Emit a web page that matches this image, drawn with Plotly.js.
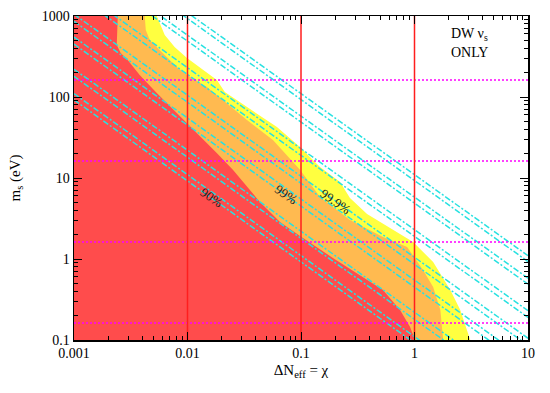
<!DOCTYPE html>
<html>
<head>
<meta charset="utf-8">
<script src="https://cdn.plot.ly/plotly-3.0.1.min.js"></script>
<style>
  html, body { margin: 0; padding: 0; background: #fff; }
  #chart { width: 550px; height: 393px; }
</style>
</head>
<body>
<div id="chart"></div>
<script>
// 99.9% region boundary (yellow / white)
var yelX = [0.00536,0.0063,0.0077,0.0099,0.01365,0.01815,0.0213,0.0334,0.0614,0.098,0.147,0.221,0.27,0.382,0.61,0.973,1.46,2.07,2.53,3.1];
var yelY = [1000,582,414,303,215,162,115,75,42.6,24.1,13.7,8.9,5.66,3.6,2.41,1.62,0.918,0.414,0.234,0.1];

// 99% region boundary (orange / yellow)
var orgX = [0.0042,0.00429,0.00465,0.00569,0.00805,0.0099,0.0148,0.0205,0.0334,0.0566,0.098,0.147,0.27,0.528,0.861,1.19,1.46,1.69,1.79];
var orgY = [1000,672,506,380,234,187,133,91.8,52,29.4,12.6,5.82,3.03,1.87,1.41,0.731,0.451,0.234,0.1];

// 90% region boundary (red / orange)
var redX = [0.00243,0.00238,0.00258,0.00297,0.00379,0.00536,0.0099,0.0181,0.0251,0.0435,0.0653,0.098,0.191,0.382,0.528,0.746,0.914,1.01];
var redY = [1000,438,349,286,187,112,47.7,20.4,12.6,5.06,2.86,1.92,1.03,0.551,0.414,0.234,0.145,0.1];

// m_s * chi = const lines (dash-dot)
var diagC = [11.0,9.3,5.8,4.9,2.3,1.9,1.05,0.86,0.55,0.45,0.22,0.18,0.11,0.092];
var vertX = [0.01,0.1,1];
var horizY = [0.162,1.62,16.2,162];

// minor tick positions (2..9 in each decade)
var minorX = [], minorY = [];
[-3,-2,-1,0].forEach(function (e) { for (var k = 2; k < 10; k++) minorX.push(k * Math.pow(10, e)); });
[-1,0,1,2].forEach(function (e) { for (var k = 2; k < 10; k++) minorY.push(k * Math.pow(10, e)); });

var xMin = 0.001, xMax = 10, yMin = 0.1, yMax = 1000;

function region(bx, by, color) {
  return {
    x: [xMin].concat(bx).concat([xMin]),
    y: [yMax].concat(by).concat([yMin]),
    fill: 'toself', fillcolor: color, mode: 'lines',
    line: {width: 0, color: color}, hoverinfo: 'skip'
  };
}

var data = [
  region(yelX, yelY, 'rgb(255,255,64)'),
  region(orgX, orgY, 'rgb(255,186,80)'),
  region(redX, redY, 'rgb(255,76,76)')
];

diagC.forEach(function (c) {
  data.push({
    x: [xMin, xMax], y: [c / xMin, c / xMax], mode: 'lines',
    line: {color: 'rgb(40,225,225)', width: 1.5, dash: '6px,2px,2px,2px'}
  });
});

horizY.forEach(function (v) {
  data.push({
    x: [xMin, xMax], y: [v, v], mode: 'lines',
    line: {color: 'rgb(255,0,255)', width: 1.5, dash: '2px,2px'}
  });
});

vertX.forEach(function (v) {
  data.push({
    x: [v, v], y: [yMin, yMax], mode: 'lines',
    line: {color: 'rgb(255,30,30)', width: 1.5}
  });
});

// empty trace so the minor-tick overlay axes get drawn
data.push({x: [], y: [], xaxis: 'x2', yaxis: 'y2', mode: 'lines', hoverinfo: 'skip'});

var serif = 'Liberation Serif, Times New Roman, serif';

var axisBase = {
  type: 'log', showgrid: false, zeroline: false,
  showline: true, linecolor: 'black', linewidth: 1.5, mirror: 'allticks',
  ticks: 'inside', ticklen: 8, tickwidth: 1, tickcolor: 'black',
  tickfont: {family: serif, size: 14, color: 'black'}
};

var minorBase = {
  type: 'log', showgrid: false, zeroline: false, showticklabels: false,
  showline: true, linecolor: 'black', linewidth: 1.5, mirror: 'allticks',
  ticks: 'inside', ticklen: 4, tickwidth: 1, tickcolor: 'black'
};

var layout = {
  width: 550, height: 393,
  margin: {l: 74, r: 22, t: 16, b: 53},
  showlegend: false,
  plot_bgcolor: 'white', paper_bgcolor: 'white',
  xaxis: Object.assign({}, axisBase, {
    range: [-3, 1],
    tickvals: [0.001, 0.01, 0.1, 1, 10],
    ticktext: ['0.001', '0.01', '0.1', '1', '10'],
    title: {text: 'ΔN<sub>eff</sub> = χ', font: {family: serif, size: 15, color: 'black'}, standoff: 4}
  }),
  yaxis: Object.assign({}, axisBase, {
    range: [-1, 3],
    tickvals: [0.1, 1, 10, 100, 1000],
    ticktext: ['0.1', '1', '10', '100', '1000'],
    title: {text: 'm<sub>s</sub> (eV)', font: {family: serif, size: 15, color: 'black'}, standoff: 17}
  }),
  xaxis2: Object.assign({}, minorBase, {range: [-3, 1], overlaying: 'x', tickvals: minorX}),
  yaxis2: Object.assign({}, minorBase, {range: [-1, 3], overlaying: 'y', tickvals: minorY}),
  annotations: [
    {x: Math.log10(0.0164), y: Math.log10(5.8), text: '90%', showarrow: false, textangle: 35,
     font: {family: serif, size: 13, color: '#222'}},
    {x: Math.log10(0.0738), y: Math.log10(6.2), text: '99%', showarrow: false, textangle: 35,
     font: {family: serif, size: 13, color: '#222'}},
    {x: Math.log10(0.203), y: Math.log10(5.2), text: '99.9%', showarrow: false, textangle: 35,
     font: {family: serif, size: 13, color: '#222'}},
    {xref: 'paper', yref: 'paper', x: 0.826, y: 0.975, xanchor: 'left', text: 'DW ν<sub>s</sub>',
     showarrow: false, font: {family: serif, size: 14, color: 'black'}},
    {xref: 'paper', yref: 'paper', x: 0.826, y: 0.918, xanchor: 'left', text: 'ONLY',
     showarrow: false, font: {family: serif, size: 14, color: 'black'}}
  ]
};

Plotly.newPlot('chart', data, layout, {displayModeBar: false, staticPlot: true});
</script>
</body>
</html>
